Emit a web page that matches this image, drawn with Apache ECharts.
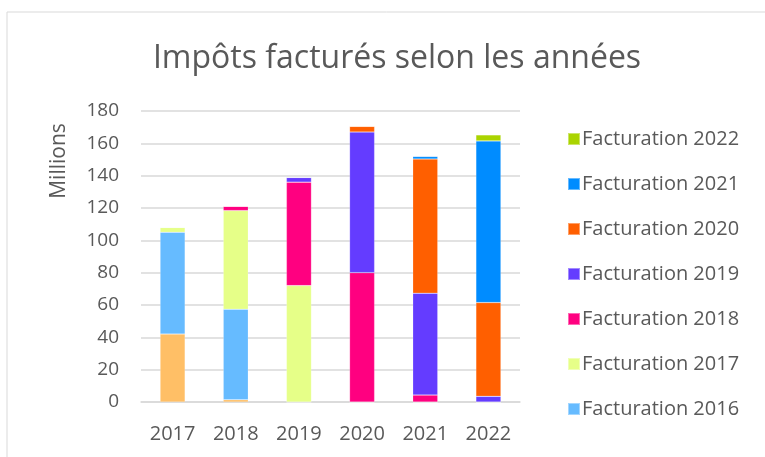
<!DOCTYPE html>
<html>
<head>
<meta charset="utf-8">
<script src="https://cdn.jsdelivr.net/npm/echarts@6/dist/echarts.min.js"></script>
<style>
  html, body { margin: 0; padding: 0; background: #fff; }
  #chart { width: 765px; height: 457px; }
</style>
</head>
<body>
<div id="chart"></div>
<script>
var years = ['2017', '2018', '2019', '2020', '2021', '2022'];

// montants factures par annee de facturation (millions)
var fact2015 = [42, 1.4, 0, 0, 0, 0];
var fact2016 = [63, 56, 0, 0, 0, 0];
var fact2017 = [3, 61, 72, 0, 0, 0];
var fact2018 = [0, 2.7, 64, 80, 4.3, 0];
var fact2019 = [0, 0, 2.9, 87, 63, 3.5];
var fact2020 = [0, 0, 0, 3.5, 83, 58];
var fact2021 = [0, 0, 0, 0, 1.6, 100];
var fact2022 = [0, 0, 0, 0, 0, 3.7];

var yTicks = [0, 20, 40, 60, 80, 100, 120, 140, 160, 180];

var textColor = '#595959';
var fontName = 'Open Sans';

var seriesDefs = [
    { name: 'Facturation 2015', data: fact2015, color: '#FFBF66' },
    { name: 'Facturation 2016', data: fact2016, color: '#66BBFF' },
    { name: 'Facturation 2017', data: fact2017, color: '#E6FF88' },
    { name: 'Facturation 2018', data: fact2018, color: '#FF0080' },
    { name: 'Facturation 2019', data: fact2019, color: '#643CFF' },
    { name: 'Facturation 2020', data: fact2020, color: '#FF5F00' },
    { name: 'Facturation 2021', data: fact2021, color: '#008CFF' },
    { name: 'Facturation 2022', data: fact2022, color: '#AAD400' }
];

var chart = echarts.init(document.getElementById('chart'), null, { renderer: 'canvas' });

var option = {
    backgroundColor: '#fff',
    animation: false,
    graphic: [{
        type: 'rect',
        shape: { x: 7, y: 12, width: 800, height: 500 },
        style: { fill: 'none', stroke: '#d9d9d9', lineWidth: 1 },
        silent: true
    }, {
        // unite d'affichage de l'axe
        type: 'text',
        x: 59,
        y: 161,
        rotation: Math.PI / 2,
        style: {
            text: 'Millions',
            fontFamily: fontName,
            fontSize: 21,
            fill: textColor,
            align: 'center',
            verticalAlign: 'middle'
        },
        silent: true
    }],
    title: {
        text: 'Impôts facturés selon les années',
        left: 392,
        textAlign: 'center',
        top: 38,
        textStyle: { fontFamily: fontName, fontSize: 32, fontWeight: 'normal', color: textColor }
    },
    legend: {
        orient: 'vertical',
        left: 562,
        top: 124,
        itemWidth: 12,
        itemHeight: 12,
        itemGap: 25,
        icon: 'rect',
        data: seriesDefs.slice(1).map(function (s) { return s.name; }).reverse(),
        textStyle: { fontFamily: fontName, fontSize: 20, color: textColor, padding: [0, 0, 0, -3] }
    },
    grid: { left: 141, right: 245, top: 111, bottom: 55 },
    xAxis: {
        type: 'category',
        data: years,
        axisTick: { show: false },
        axisLine: { lineStyle: { color: '#d9d9d9', width: 1.5 } },
        axisLabel: { fontFamily: fontName, fontSize: 20, color: textColor, margin: 22 }
    },
    yAxis: {
        type: 'value',
        min: yTicks[0],
        max: yTicks[yTicks.length - 1],
        interval: 20,
        axisLine: { show: false },
        axisTick: { show: false },
        axisLabel: { fontFamily: fontName, fontSize: 19, color: textColor, margin: 22 },
        splitLine: { lineStyle: { color: '#d9d9d9', width: 1.5 } }
    },
    series: seriesDefs.map(function (s) {
        return {
            name: s.name,
            type: 'bar',
            stack: 'total',
            barWidth: 25,
            data: s.data,
            itemStyle: { color: s.color, borderColor: 'rgba(255,255,255,0.4)', borderWidth: 0.5 }
        };
    })
};

chart.setOption(option);
</script>
</body>
</html>
